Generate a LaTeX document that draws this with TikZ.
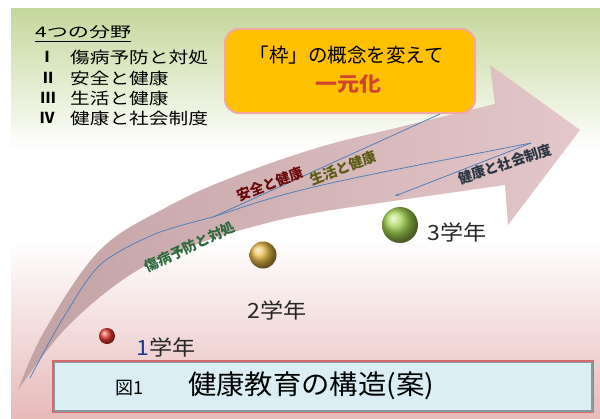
\documentclass[tikz,border=0pt]{standalone}
\usepackage{fontspec}
\newfontfamily\jp{Noto Sans CJK JP}
\usetikzlibrary{arrows.meta}
\definecolor{bggreen}{HTML}{C4D79B}
\definecolor{bgpink}{HTML}{E8BABA}
\definecolor{arrowL}{HTML}{C3A2A4}
\definecolor{arrowR}{HTML}{E4C7CA}
\definecolor{lineblue}{HTML}{4F81BD}
\definecolor{boxorange}{HTML}{FFC000}
\definecolor{boxedge}{HTML}{F4A8A0}
\definecolor{titlefill}{HTML}{DAEEF3}
\definecolor{titleedge}{HTML}{D46A6A}
\definecolor{titleshadow}{HTML}{8A9AA2}
\definecolor{txtgreen}{HTML}{2D6A3E}
\definecolor{txtred}{HTML}{6A0A0A}
\definecolor{txtolive}{HTML}{5C5C12}
\definecolor{txtslate}{HTML}{2B3742}
\definecolor{txtredorange}{HTML}{D2452C}
\definecolor{digitblue}{HTML}{1F3A8A}
\definecolor{ballred}{HTML}{E83A30}
\definecolor{ballgold}{HTML}{E6B845}
\definecolor{ballgreen}{HTML}{A6D452}
\begin{document}
\begin{tikzpicture}[x=1pt,y=-1pt,
  armtext/.style={font=\jp\bfseries\fontsize{14}{14}\selectfont, inner sep=0},
  gradelabel/.style={font=\jp\fontsize{21}{21}\selectfont, text=black!85, inner sep=0},
  listnum/.style={inner sep=0, font=\jp\bfseries\fontsize{15}{15}\selectfont},
  listtext/.style={anchor=west, inner sep=0, font=\jp\fontsize{16}{16}\selectfont},
  blueline/.style={draw=lineblue, line width=0.8pt},
  gball/.style={circle, inner sep=0, shading=ball}
]
\useasboundingbox (0,0) rectangle (600,418);
\fill[white] (0,0) rectangle (600,418);
% background panel
\shade[top color=bggreen, bottom color=white] (11,8) rectangle (600,150.5);
\fill[white] (11,150) rectangle (600,240.5);
\shade[top color=white, bottom color=bgpink] (11,240) rectangle (600,418);

% big curved arrow
\shade[left color=arrowL, right color=arrowR]
  plot[smooth, tension=0.6] coordinates {(18,390) (45,330) (100,250) (167,207) (233,177) (320,147) (400,127) (495,104)}
  -- (490,65) -- (580,130) -- (508,225) -- (505,185)
  -- plot[smooth, tension=0.6] coordinates {(505,185) (400,200) (320,212) (267,223) (200,243) (133,273) (67,327) (18,390)}
  -- cycle;

% blue guide lines
\coordinate (a0) at (30,378);
\coordinate (j) at (213,217);
\coordinate (bend) at (440,114);
\coordinate (cend) at (531,143);
\coordinate (dstart) at (395,196);
\draw[blueline] plot[smooth] coordinates {(a0) (62,320) (100,265) (155,234) (j)};
\draw[blueline] (j) -- (bend);
\draw[blueline] (j) .. controls (300,188) .. (cend);
\draw[blueline, {Stealth[length=4pt,width=3pt]}-] (dstart) -- (cend);

% texts on the arrow
\node[armtext, text=txtgreen, rotate=25] (t1) at (190,247) {傷病予防と対処};
\node[armtext, text=txtred, rotate=21] (t2) at (270,184) {安全と健康};
\node[armtext, text=txtolive, rotate=21] (t3) at (343,168) {生活と健康};
\node[armtext, text=txtslate, rotate=18] (t4) at (505,164) {健康と社会制度};

% balls and grade labels
\node[gball, ball color=ballred, minimum size=16pt] (g1) at (107,336) {};
\node[gball, ball color=ballgold, minimum size=27pt] (g2) at (263,255) {};
\node[gball, ball color=ballgreen, minimum size=36pt] (g3) at (400,225) {};
\node[gradelabel] (l1) at (166,347) {\scalebox{1.1}[1]{{\color{digitblue}1}学年}};
\node[gradelabel] (l2) at (277,310) {\scalebox{1.1}[1]{2学年}};
\node[gradelabel] (l3) at (457,232) {\scalebox{1.1}[1]{3学年}};

% orange message box
\node[draw=boxedge, line width=2pt, fill=boxorange, rounded corners=14pt,
      minimum width=250pt, minimum height=84pt, inner sep=0] (msg) at (350,71) {};
\node[inner sep=0, font=\jp\fontsize{19.5}{19.5}\selectfont] (msg1) at (347,55) {「枠」の概念を変えて};
\node[inner sep=0, text=txtredorange, font=\jp\bfseries\fontsize{20}{20}\selectfont] (msg2) at (348,84) {\scalebox{1.1}[1]{一元化}};

% title box
\node[draw=titleedge, line width=1.8pt, fill=titlefill, minimum width=540pt,
      minimum height=51pt, inner sep=0] (title) at (323,386.5) {};
\draw[titleshadow, line width=1.2pt] ([shift={(2,2)}]title.north west) rectangle ([shift={(-2,-2)}]title.south east);
\node[inner sep=0, font=\jp\fontsize{18}{18}\selectfont] (fig) at (129,388) {図1};
\node[anchor=west, inner sep=0, font=\jp\fontsize{27}{27}\selectfont] (ttl) at (188,386) {\scalebox{1.05}[1]{健康教育の構造(案)}};

% list of four fields
\node[anchor=west, inner sep=0, font=\jp\fontsize{14.5}{14.5}\selectfont] (head) at (35,32) {\resizebox{96pt}{\height}{4つの分野}};
\draw[line width=0.8pt] ([yshift=-2.5pt]head.south west) -- ([yshift=-2.5pt]head.south east);
\node[listnum] (n1) at (47,57) {Ⅰ};
\node[listnum] (n2) at (48,78) {Ⅱ};
\node[listnum] (n3) at (48,98) {Ⅲ};
\node[listnum] (n4) at (47,118) {Ⅳ};
\node[listtext] (i1) at (70,57) {\scalebox{1.23}[1]{傷病予防と対処}};
\node[listtext] (i2) at (70,78) {\scalebox{1.23}[1]{安全と健康}};
\node[listtext] (i3) at (70,98) {\scalebox{1.23}[1]{生活と健康}};
\node[listtext] (i4) at (70,118) {\scalebox{1.23}[1]{健康と社会制度}};
\end{tikzpicture}
\end{document}
